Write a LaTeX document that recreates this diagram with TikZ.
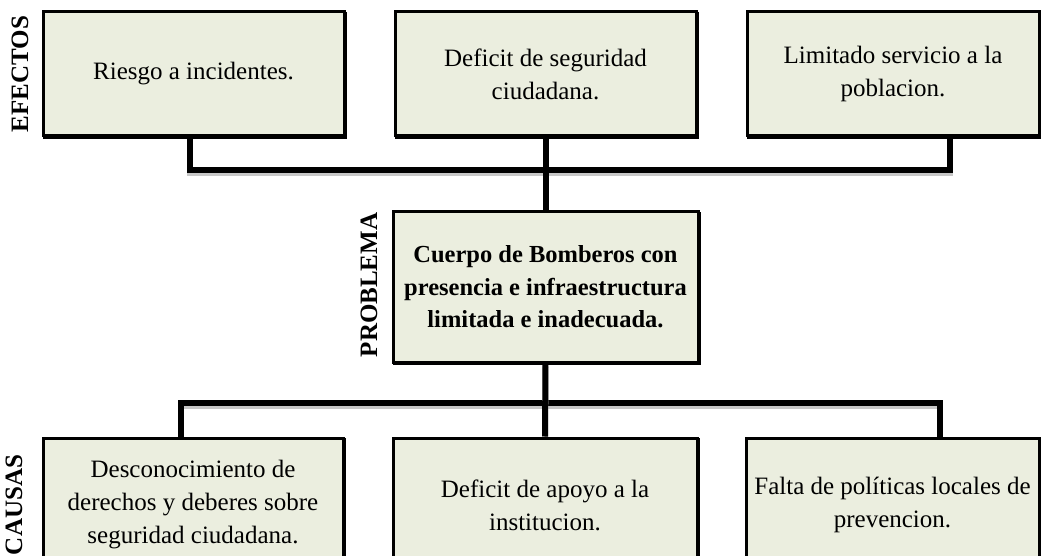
\documentclass[tikz,border=0pt]{standalone}
\usepackage{fontspec}
\setmainfont{Liberation Serif}
\usetikzlibrary{backgrounds}

\definecolor{cajafondo}{RGB}{235,238,223}

\tikzset{
  caja/.style={draw=black, line width=3pt, fill=cajafondo, align=center,
    inner sep=0pt, font=\fontsize{25}{33}\selectfont,
    preaction={draw=black, line width=3pt, transform canvas={shift={(1.5pt,-1.5pt)}}}},
  rotulo/.style={rotate=90, font=\fontsize{25}{30}\selectfont\bfseries},
  conector/.style={line width=6pt, line join=miter,
    preaction={draw=black!22, line width=6pt, transform canvas={yshift=-3pt}}}
}

\begin{document}
\begin{tikzpicture}[x=1pt, y=-1pt]
  \useasboundingbox (0,0) rectangle (1041,556);
  \clip (0,0) rectangle (1041,556);

  % Efectos (fila superior)
  \node[caja, minimum width=301, minimum height=124] (e1) at (193.5,74) {Riesgo a incidentes.};
  \node[caja, minimum width=301, minimum height=124] (e2) at (545.5,74) {Deficit de seguridad\\ciudadana.};
  \node[caja, minimum width=292, minimum height=124] (e3) at (893,74) {Limitado servicio a la\\poblacion.};

  % Problema central
  \node[caja, minimum width=305, minimum height=150, font=\fontsize{24.5}{32.5}\selectfont\bfseries]
    (p) at (545.5,287) {Cuerpo de Bomberos con\\presencia e infraestructura\\limitada e inadecuada.};

  % Causas (fila inferior, cortada por el borde)
  \node[caja, minimum width=300, minimum height=134] (c1) at (193,505) {Desconocimiento de\\derechos y deberes sobre\\seguridad ciudadana.};
  \node[caja, minimum width=304, minimum height=134] (c2) at (545,505) {Deficit de apoyo a la\\institucion.};
  \node[caja, minimum width=293, minimum height=134] (c3) at (892.5,505) {Falta de políticas locales de\\prevencion.};

  % Rotulos laterales
  \node[rotulo] (lefe) at (20,74) {EFECTOS};
  \node[rotulo] (lpro) at (369,285) {PROBLEMA};
  \node[rotulo] (lcau) at (14,505) {CAUSAS};

  % Esquinas de las barras
  \coordinate (ti) at (190,170);
  \coordinate (td) at (950,170);
  \coordinate (bi) at (181,403);
  \coordinate (bd) at (940,403);

  \begin{scope}[on background layer]
    % Barra de efectos
    \draw[conector] (e1.south -| ti) -- (ti) -- (td) -- (e3.south -| td);
    \draw[conector] (e2.south) -- (p.north);
    % Barra de causas
    \draw[conector] (c1.north -| bi) -- (bi) -- (bd) -- (c3.north -| bd);
    \draw[conector] (p.south) -- (c2.north);
  \end{scope}
\end{tikzpicture}
\end{document}
